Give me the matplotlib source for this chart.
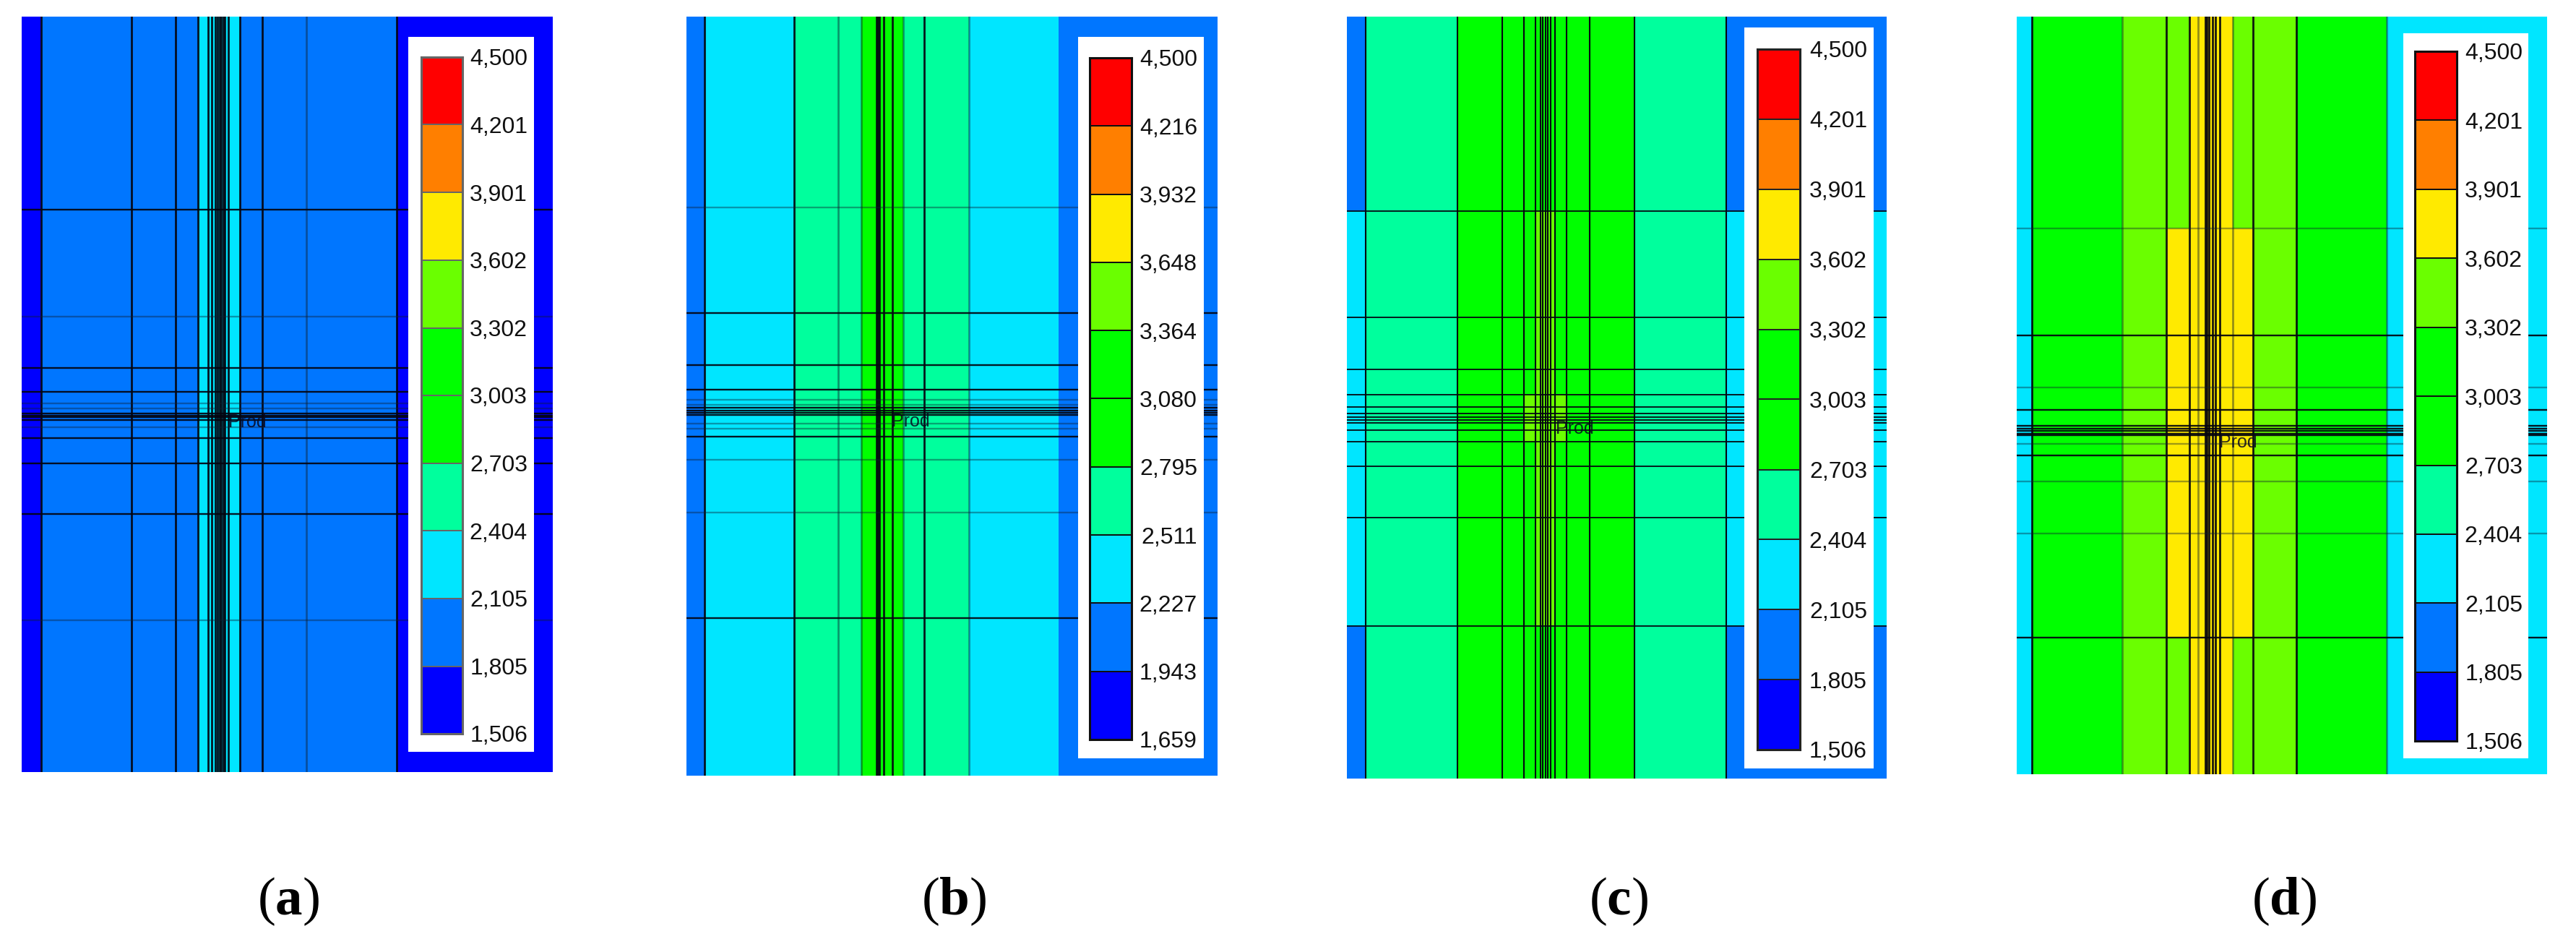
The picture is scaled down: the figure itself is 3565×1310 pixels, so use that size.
import matplotlib
matplotlib.use("Agg")
import matplotlib.pyplot as plt
from matplotlib.colors import ListedColormap, BoundaryNorm

W, H = 3565, 1310
plt.rcParams['font.family'] = ['Liberation Sans', 'DejaVu Sans']
plt.rcParams['mathtext.fontset'] = 'custom'
plt.rcParams['mathtext.rm'] = 'Liberation Serif'
plt.rcParams['mathtext.bf'] = 'Liberation Serif:bold'

zone_colors = ['#0000ff', '#0076ff', '#00e6ff', '#00ff9d', '#00ff00',
               '#00ff00', '#6aff00', '#ffea00', '#ff7f00', '#ff0000']

levels_a = [1506, 1805, 2105, 2404, 2703, 3003, 3302, 3602, 3901, 4201, 4500]
levels_b = [1659, 1943, 2227, 2511, 2795, 3080, 3364, 3648, 3932, 4216, 4500]
levels_c = [1506, 1805, 2105, 2404, 2703, 3003, 3302, 3602, 3901, 4201, 4500]
levels_d = [1506, 1805, 2105, 2404, 2703, 3003, 3302, 3602, 3901, 4201, 4500]

# pressure zones: x edges, y edges and class index of every zone
zx_a = [59, 111, 537, 650, 1076, 1499]
zy_a = [33, 1522]
zc_a = [[0, 1, 2, 1, 0]]

zx_b = [96, 143, 380, 558, 670, 843, 1080, 1501]
zy_b = [33, 1530]
zc_b = [[1, 2, 3, 4, 3, 2, 1]]

zx_c = [47, 98, 346, 528, 558, 612, 642, 827, 1075, 1511]
zy_c = [33, 416, 779, 871, 1234, 1535]
zc_c = [[1, 3, 4, 4, 4, 4, 4, 3, 1],
        [2, 3, 4, 4, 6, 4, 4, 3, 2],
        [2, 3, 4, 6, 6, 6, 4, 3, 2],
        [2, 3, 4, 4, 6, 4, 4, 3, 2],
        [1, 3, 4, 4, 4, 4, 4, 3, 1]]

zx_d = [41, 82, 330, 450, 513, 630, 687, 805, 1052, 1489]
zy_d = [33, 450, 1258, 1527]
zc_d = [[2, 4, 6, 6, 7, 6, 6, 4, 2],
        [2, 4, 6, 7, 7, 7, 6, 4, 2],
        [2, 4, 6, 6, 7, 6, 6, 4, 2]]

# grid lines: strong and faint
vx_a = [111, 357, 476, 537, 565, 575, 585, 590, 595, 600, 605, 610, 620, 650, 711, 1076]
vx_soft_a = [830]
hy_a = [414, 725, 773, 815, 819, 823, 828, 864, 913, 1013]
hy_soft_a = [625, 795, 805, 843, 1223]

vx_b = [143, 380, 598, 602, 606, 617, 640, 725]
vx_soft_b = [498, 558, 670, 843]
hy_b = [618, 720, 768, 805, 810, 814, 818, 862, 1219]
hy_soft_b = [410, 788, 798, 835, 845, 907, 1011]

vx_c = [98, 346, 468, 528, 558, 572, 578, 585, 592, 600, 612, 642, 706, 827, 1075]
vx_soft_c = []
hy_c = [416, 626, 728, 779, 803, 816, 822, 828, 834, 848, 871, 919, 1021, 1234]
hy_soft_c = []

vx_d = [82, 450, 513, 555, 560, 565, 575, 583, 595, 687, 805]
vx_soft_d = [330, 537, 630, 1052]
hy_d = [661, 809, 840, 845, 850, 855, 858, 899, 1258]
hy_soft_d = [450, 764, 875, 949, 1052]

well_label = "Prod"
panel_labels = ["a", "b", "c", "d"]

panels = [
    dict(zx=zx_a, zy=zy_a, zc=zc_a, vx=vx_a, vs=vx_soft_a, hy=hy_a, hs=hy_soft_a, lv=levels_a,
         box=(30, 23, 765, 1068), leg=(565, 51, 739, 1040), bar=(583, 79, 640, 1015),
         lab_r=730, lw=2.0, edge='#666666', well=(316, 584), lab_x=399, a=0.92),
    dict(zx=zx_b, zy=zy_b, zc=zc_b, vx=vx_b, vs=vx_soft_b, hy=hy_b, hs=hy_soft_b, lv=levels_b,
         box=(950, 23, 1685, 1073), leg=(1492, 51, 1666, 1049), bar=(1508, 80, 1566, 1023),
         lab_r=1657, lw=2.0, edge='#101010', well=(1234, 583), lab_x=1320, a=0.92),
    dict(zx=zx_c, zy=zy_c, zc=zc_c, vx=vx_c, vs=vx_soft_c, hy=hy_c, hs=hy_soft_c, lv=levels_c,
         box=(1864, 23, 2611, 1077), leg=(2414, 38, 2593, 1063), bar=(2432, 68, 2491, 1037),
         lab_r=2584, lw=1.5, edge='#222222', well=(2153, 593), lab_x=2240, a=1.0),
    dict(zx=zx_d, zy=zy_d, zc=zc_d, vx=vx_d, vs=vx_soft_d, hy=hy_d, hs=hy_soft_d, lv=levels_d,
         box=(2791, 23, 3525, 1071), leg=(3326, 46, 3499, 1049), bar=(3342, 71, 3400, 1025),
         lab_r=3491, lw=2.0, edge='#101010', well=(3071, 612), lab_x=3161, a=0.92),
]

cmap = ListedColormap(zone_colors)
norm = BoundaryNorm(list(range(11)), 10)

fig = plt.figure(figsize=(W / 100, H / 100), dpi=100, facecolor='white')


def px_axes(x0, y0, x1, y1, z):
    return fig.add_axes([x0 / W, 1 - y1 / H, (x1 - x0) / W, (y1 - y0) / H], zorder=z)


for i, p in enumerate(panels):
    ax = px_axes(*p['box'], 1)
    ax.pcolormesh(p['zx'], p['zy'], p['zc'], cmap=cmap, norm=norm, shading='flat')
    ax.set_xlim(p['zx'][0], p['zx'][-1])
    ax.set_ylim(p['zy'][-1], p['zy'][0])
    ax.axis('off')
    for x in p['vx']:
        ax.axvline(x, color='#050510', lw=p['lw'], alpha=p['a'])
    for x in p['vs']:
        ax.axvline(x, color='#102030', lw=p['lw'], alpha=0.45)
    for y in p['hy']:
        ax.axhline(y, color='#050510', lw=p['lw'] * 0.85, alpha=p['a'])
    for y in p['hs']:
        ax.axhline(y, color='#102030', lw=p['lw'] * 0.85, alpha=0.4)

    fig.text(p['well'][0] / W, 1 - p['well'][1] / H, well_label, fontsize=18,
             color='#080820', alpha=0.85, ha='left', va='center', zorder=3)

    leg = px_axes(*p['leg'], 4)
    leg.set_facecolor('white')
    leg.set_xticks([])
    leg.set_yticks([])
    for s in leg.spines.values():
        s.set_visible(False)

    bar = px_axes(*p['bar'], 5)
    bar.pcolormesh([0, 1], p['lv'], [[k] for k in range(10)], cmap=cmap, norm=norm,
                   edgecolors=p['edge'], linewidth=1.4, shading='flat')
    bar.set_xlim(0, 1)
    bar.set_ylim(p['lv'][0], p['lv'][-1])
    bar.set_xticks([])
    bar.yaxis.tick_right()
    bar.set_yticks(p['lv'])
    pad = (p['lab_r'] - p['bar'][2]) * 0.72
    bar.set_yticklabels([f"{v:,}" for v in p['lv']], ha='right', fontsize=23, color='#111111')
    bar.tick_params(axis='y', length=0, pad=pad)
    for s in bar.spines.values():
        s.set_color(p['edge'])
        s.set_linewidth(2.2)

    fig.text(p['lab_x'] / W, 1 - 1265 / H,
             r"$\mathrm{(}\mathbf{" + panel_labels[i] + r"}\mathrm{)}$",
             fontsize=54, color='black', ha='center', va='baseline', zorder=3)

fig.savefig("out.png", dpi=100, facecolor='white')
